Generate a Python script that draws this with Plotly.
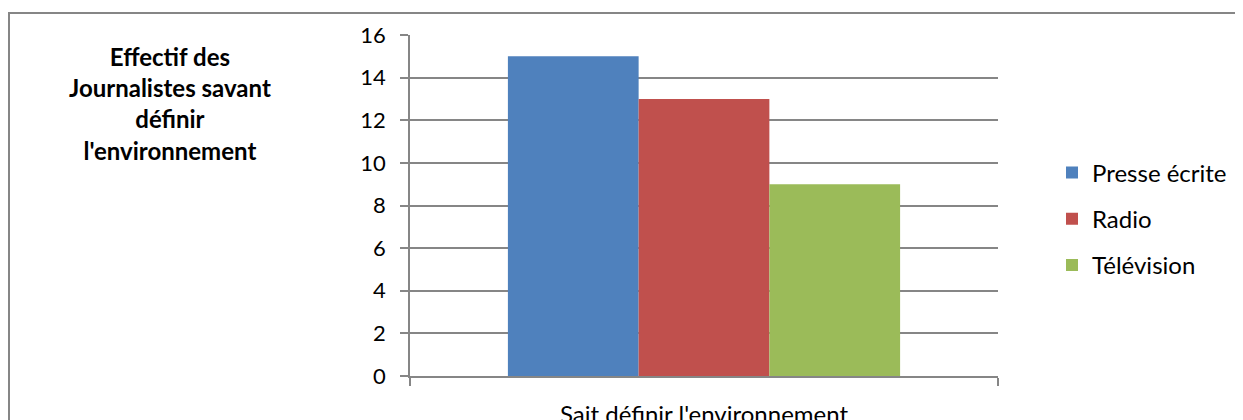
import plotly.graph_objects as go

categories = ["Sait définir l'environnement"]
series_names = ["Presse écrite", "Radio", "Télévision"]
presse = [15]
radio = [13]
television = [9]
colors = ["#4F81BD", "#C0504D", "#9BBB59"]
y_ticks = [0, 2, 4, 6, 8, 10, 12, 14, 16]

FONT = "Lato"
fig = go.Figure()
for i, (name, vals) in enumerate(zip(series_names, [presse, radio, television])):
    fig.add_trace(go.Bar(x=categories, y=vals, name=name, marker_color=colors[i],
                         marker_line_width=0, legendgroup=f"g{i}"))

# page body has an 8px margin, so figure coords = reference px - 8
OFF = 8
W, H = 1243, 420
L, R, T, B = 410 - OFF, 998 - OFF, 35 - OFF, 376 - OFF
pw, ph = R - L, B - T

def px_x(x):
    return (x - OFF - L) / pw

def px_y(y):
    return 1 - (y - OFF - T) / ph

fig.update_layout(
    width=W, height=H,
    margin=dict(l=L, r=W - R, t=T, b=H - B, autoexpand=False),
    paper_bgcolor="white", plot_bgcolor="white",
    barmode="group", bargap=0.333, bargroupgap=0,
    font=dict(family=FONT, size=22, color="black"),
    showlegend=True,
    legend=dict(x=px_x(1052), y=px_y(219), xanchor="left", yanchor="middle",
                font=dict(family=FONT, size=24), tracegroupgap=12,
                itemwidth=30, bgcolor="rgba(0,0,0,0)"),
    xaxis=dict(type="category", showline=True, linecolor="#868686", linewidth=1.5,
               ticks="outside", tickson="boundaries", ticklen=8, tickcolor="#868686",
               tickwidth=1.5, showgrid=False, mirror=False, automargin=False,
               tickfont=dict(family=FONT, size=24), ticklabelstandoff=16),
    yaxis=dict(range=[0, 16], tickvals=y_ticks, showline=True, linecolor="#868686",
               linewidth=1.5, ticks="outside", ticklen=8, tickcolor="#868686", tickwidth=1.5,
               showgrid=True, gridcolor="#868686", gridwidth=1.5, zeroline=False,
               automargin=False,
               tickfont=dict(family=FONT, size=22), ticklabelstandoff=10),
    shapes=[dict(type="rect", xref="paper", yref="paper",
                 x0=px_x(9), x1=px_x(1260), y0=px_y(440), y1=px_y(13),
                 line=dict(color="#868686", width=2), layer="below")],
    annotations=[dict(xref="paper", yref="paper", x=px_x(170), y=px_y(103),
                      xanchor="center", yanchor="middle", showarrow=False,
                      text="<b>Effectif des<br>Journalistes savant<br>définir<br>l'environnement</b>",
                      font=dict(family=FONT, size=24, color="black"), align="center")],
)
fig.write_html("out.html")
